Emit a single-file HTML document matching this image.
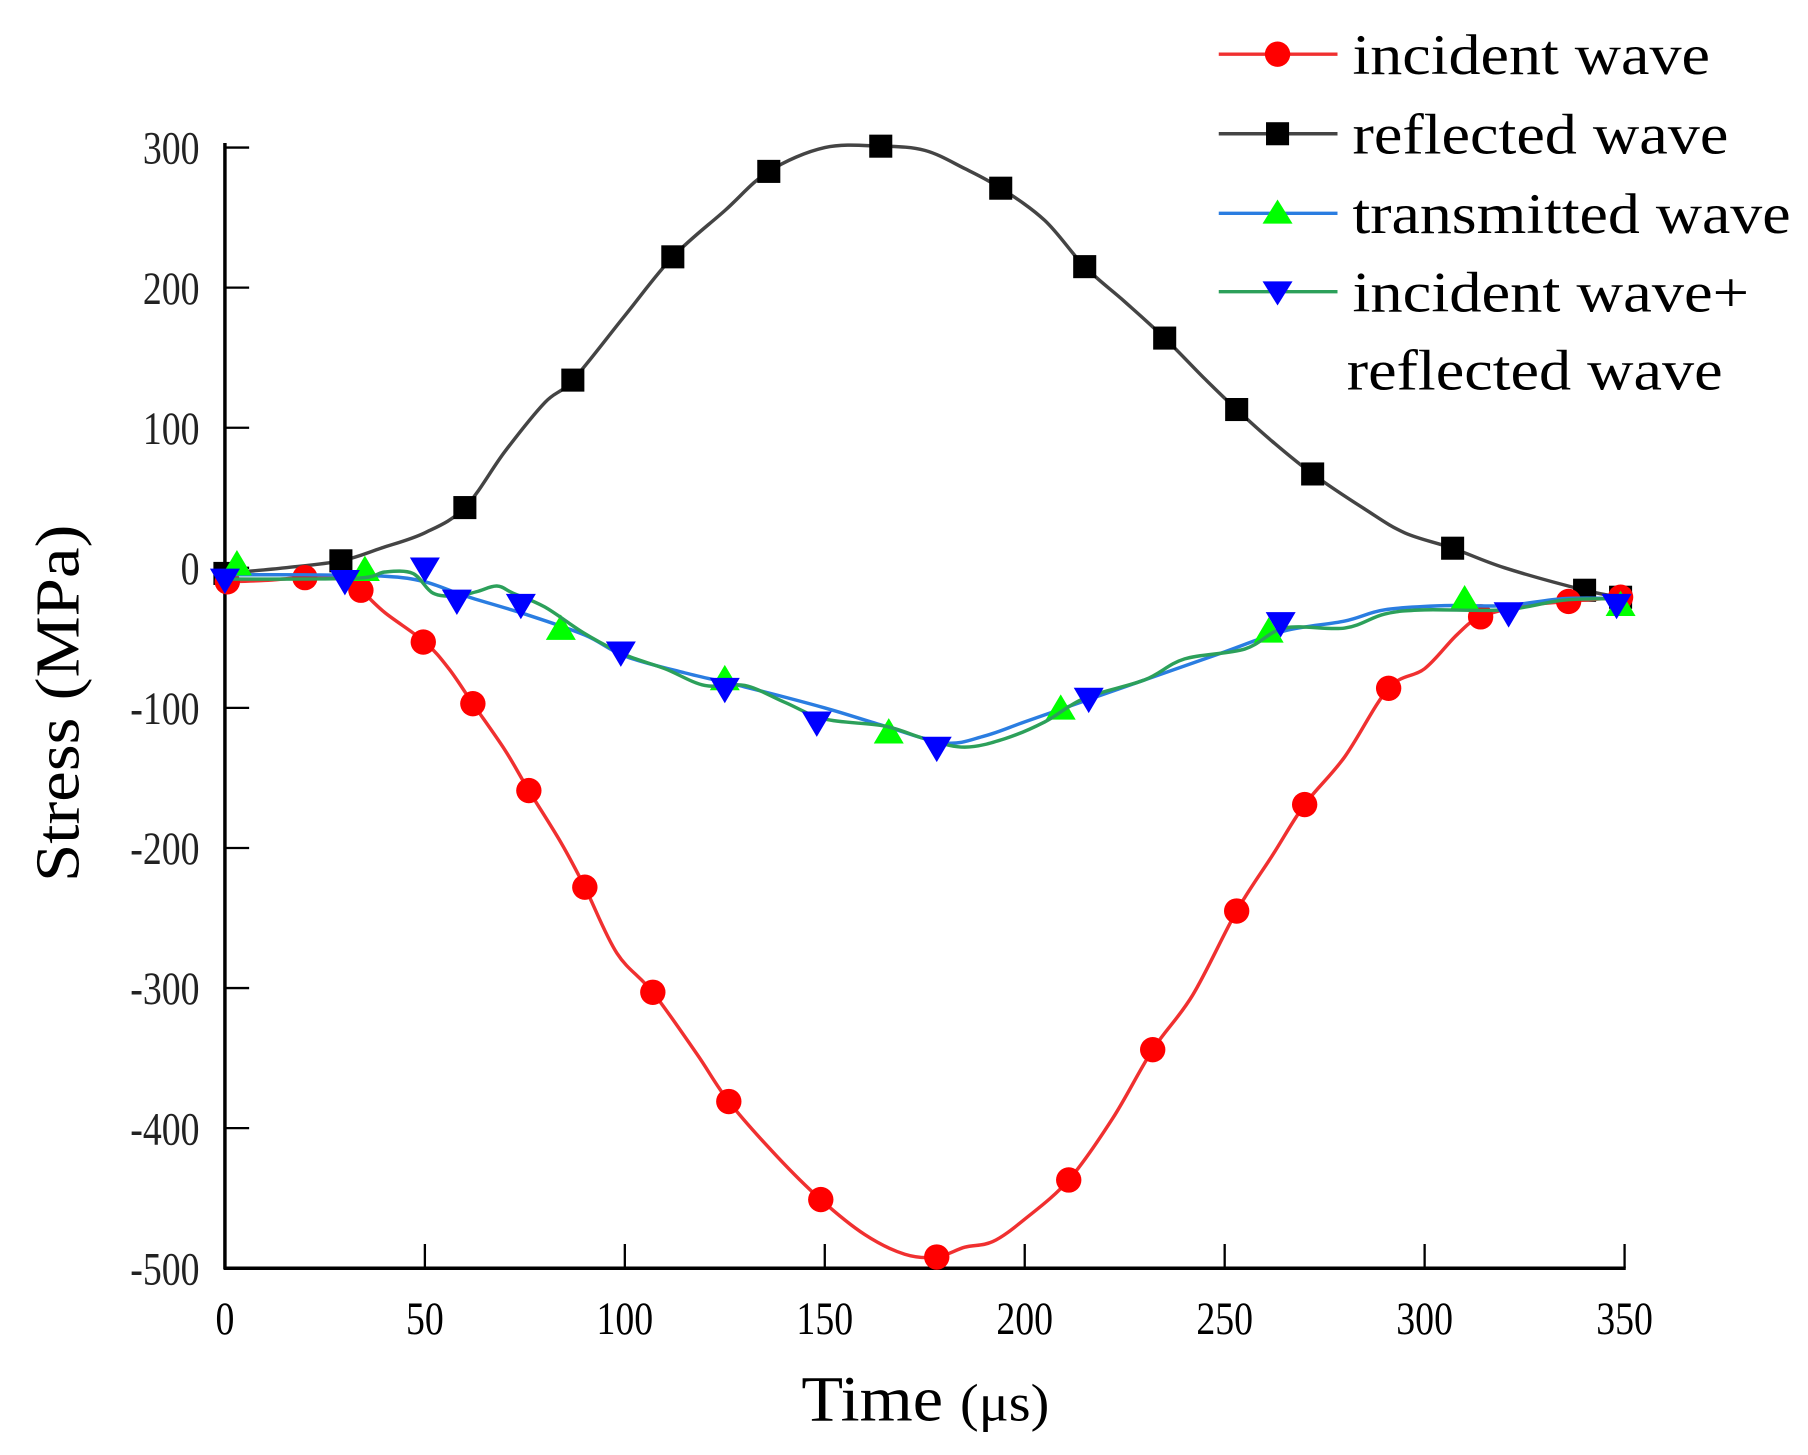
<!DOCTYPE html>
<html><head><meta charset="utf-8"><style>
html,body{margin:0;padding:0;background:#fff}
svg{display:block}
text{font-family:"Liberation Serif",serif}
</style></head><body>
<svg id="chart" width="1808" height="1455" viewBox="0 0 1568 1262" xmlns="http://www.w3.org/2000/svg">
<g id="axes"></g>
<g id="series"></g>
<text x="695" y="1232" font-size="56" textLength="215" lengthAdjust="spacingAndGlyphs">Time <tspan font-size="46">(μs)</tspan></text>
<text transform="translate(68,765) rotate(-90)" font-size="54" textLength="310" lengthAdjust="spacingAndGlyphs">Stress (MPa)</text>
<g>
<g>
<line x1="1057" y1="47" x2="1160" y2="47" stroke="#f03030" stroke-width="3"/><circle cx="1108" cy="47" r="11" fill="#ff0000"/>
<text x="1173" y="64" font-size="50" textLength="310" lengthAdjust="spacingAndGlyphs">incident wave</text></g>
<g>
<line x1="1057" y1="116" x2="1160" y2="116" stroke="#444" stroke-width="3"/><rect x="1098" y="106" width="20" height="20" fill="#000"/>
<text x="1173" y="133" font-size="50" textLength="326" lengthAdjust="spacingAndGlyphs">reflected wave</text></g>
<g>
<line x1="1057" y1="185" x2="1160" y2="185" stroke="#2a7de1" stroke-width="3"/><polygon points="1108,173 1121,194 1095,194" fill="#00ff00"/>
<text x="1173" y="202" font-size="50" textLength="380" lengthAdjust="spacingAndGlyphs">transmitted wave</text></g>
<g>
<line x1="1057" y1="253" x2="1160" y2="253" stroke="#2ca05a" stroke-width="3"/><polygon points="1095,244 1121,244 1108,265" fill="#0000ff"/>
<text x="1173" y="270" font-size="50" textLength="344" lengthAdjust="spacingAndGlyphs">incident wave+</text>
<text x="1168" y="338" font-size="50" textLength="326" lengthAdjust="spacingAndGlyphs">reflected wave</text></g>
</g>
</svg>
<script>
const xTicks=[0,50,100,150,200,250,300,350];
const yTicks=[300,200,100,0,-100,-200,-300,-400,-500];
const incT=[0,10,20,30,34,40,50,56,62,70,76,84,90,98,107,118,126,138,149,160,170,178,185,192,200,211,222,232,242,253,262,270,280,291,300,308,314,325,336,349];
const incV=[-10,-9,-7,-8,-16,-32,-53,-72,-97,-130,-159,-196,-228,-275,-303,-347,-381,-420,-451,-476,-490,-492,-485,-481,-465,-437,-393,-344,-305,-245,-205,-169,-135,-86,-72,-48,-35,-27,-24,-21];
const incMT=[0.6,20,34,49.6,62,76,90,107,126,149,178,211,232,253,270,291,314,336,349];
const incMV=[-10,-7,-16,-53,-97,-159,-228,-303,-381,-451,-492,-437,-344,-245,-169,-86,-35,-24,-21];
const refT=[0,15,29,39,50,60,70,80,87,100,112,125,136,150,164,175,185,194,205,215,225,235,245,253,262,272,285,295,307,320,340,349];
const refV=[-4,0,5,14,25,43,83,118,134,180,222,255,283,300,301,298,285,271,248,215,190,164,135,113,90,67,42,25,14,0,-16,-21];
const refMT=[0,29,60,87,112,136,164,194,215,235,253,272,307,340,349];
const refMV=[-4,5,43,134,222,283,301,271,215,164,113,67,14,-16,-21];
const traT=[0,20,40,50,60,75,90,100,115,130,150,165,180,190,200,215,230,250,265,280,290,305,320,335,350];
const traV=[-5,-5,-6,-10,-20,-33,-48,-63,-75,-85,-100,-113,-125,-120,-110,-95,-80,-60,-45,-38,-30,-27,-27,-22,-22];
const traMT=[3,35,84,125,166,209,261,310,349];
const traMV=[2,-2,-44,-80,-118,-101,-46,-23,-27];
const sumT=[0,20,35,40,47,52,58,63,68,72,80,90,100,110,120,130,140,150,165,175,185,195,205,215,230,240,255,265,280,290,300,320,335,350];
const sumV=[-8,-8,-7,-3,-4,-18,-20,-17,-13,-18,-28,-47,-62,-72,-84,-84,-96,-108,-113,-122,-128,-122,-110,-93,-80,-65,-58,-43,-43,-33,-30,-30,-23,-22];
const sumMT=[0,30,50,58,74,99,125,148,178,216,264,321,348];
const sumMV=[-8,-9,0,-23,-26,-60,-86,-110,-128,-93,-39,-32,-26];

const NS="http://www.w3.org/2000/svg";
const X0=195,X1=1409,YT=128,YB=1100;
function sx(t){return X0+(t-0)/(350-0)*(X1-X0);}
function sy(v){return YB-(v-(-500))/(300-(-500))*(YB-YT);}
function mk(tag,attrs,parent){const e=document.createElementNS(NS,tag);for(const k in attrs)e.setAttribute(k,attrs[k]);parent.appendChild(e);return e;}
const axes=document.getElementById('axes');
const ser=document.getElementById('series');
let a=mk('line',{x1:X0,y1:YT-4,x2:X0,y2:YB+1,stroke:'#000','stroke-width':3},axes);


a=mk('line',{x1:X0-1,y1:YB,x2:X1+1,y2:YB,stroke:'#000','stroke-width':3},axes);


xTicks.forEach(t=>{
 const l=mk('line',{x1:sx(t),y1:YB,x2:sx(t),y2:YB-21,stroke:'#000','stroke-width':2},axes);
 
 
 const tx=mk('text',{transform:`translate(${sx(t)},${YB+57}) scale(0.82,1)`,'font-size':40,'text-anchor':'middle'},axes);
 tx.textContent=t;
 
 
});
yTicks.forEach(v=>{
 const l=mk('line',{x1:X0,y1:sy(v),x2:X0+21,y2:sy(v),stroke:'#000','stroke-width':2},axes);
 
 
 const tx=mk('text',{transform:`translate(${X0-22},${sy(v)+14}) scale(0.82,1)`,'font-size':40,'text-anchor':'end',fill:'#222'},axes);
 tx.textContent=(v<0?'-':'')+Math.abs(v);
 
 
});
function path(T,V){
 const p=T.map((t,i)=>[sx(t),sy(V[i])]);
 let d='M'+p[0][0]+','+p[0][1];
 for(let i=0;i<p.length-1;i++){
  const p0=p[i-1]||p[i],p1=p[i],p2=p[i+1],p3=p[i+2]||p2;
  const c1=[p1[0]+(p2[0]-p0[0])/6,p1[1]+(p2[1]-p0[1])/6];
  const c2=[p2[0]-(p3[0]-p1[0])/6,p2[1]-(p3[1]-p1[1])/6];
  d+=' C'+c1+' '+c2+' '+p2;
 }
 return d;
}
function marker(type,x,y,g,fill){
 if(type==='circle')return mk('circle',{cx:x,cy:y,r:11,fill:fill},g);
 if(type==='square')return mk('rect',{x:x-10,y:y-10,width:20,height:20,fill:fill},g);
 if(type==='up')return mk('polygon',{points:`${x},${y-13} ${x+13},${y+9} ${x-13},${y+9}`,fill:fill},g);
 return mk('polygon',{points:`${x-13},${y-9} ${x+13},${y-9} ${x},${y+13}`,fill:fill},g);
}
function series(name,T,V,MT,MV,color,type,mfill){
 const g=mk('g',{},ser);
 
 
 const l=mk('path',{d:path(T,V),fill:'none',stroke:color,'stroke-width':3},g);
 
 
 MT.forEach((t,i)=>{
  const m=marker(type,sx(t),sy(MV[i]),g,mfill);
  
  
 });
}
series('reflected-wave',refT,refV,refMT,refMV,'#444','square','#000');
series('incident-wave',incT,incV,incMT,incMV,'#f03030','circle','#ff0000');
series('transmitted-wave',traT,traV,traMT,traMV,'#2a7de1','up','#00ff00');
series('incident-plus-reflected',sumT,sumV,sumMT,sumMV,'#2ca05a','down','#0000ff');
</script>
</body></html>
